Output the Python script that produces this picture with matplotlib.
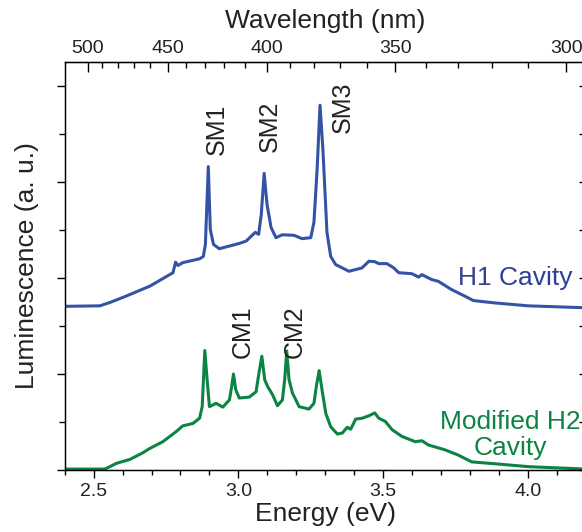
import matplotlib.pyplot as plt
from matplotlib.ticker import FixedLocator, MultipleLocator, NullFormatter
import numpy as np

plt.rcParams['font.family'] = ['Liberation Sans', 'DejaVu Sans']

# H1 cavity spectrum (energy in eV, luminescence in a.u.)
h1_energy = [2.400, 2.521, 2.556, 2.607, 2.694, 2.774, 2.783, 2.791, 2.808, 2.866,
             2.879, 2.886, 2.896, 2.903, 2.914, 2.934, 3.003, 3.027, 3.058, 3.070,
             3.079, 3.089, 3.099, 3.113, 3.130, 3.151, 3.192, 3.220, 3.250, 3.261,
             3.272, 3.282, 3.292, 3.306, 3.319, 3.336, 3.382, 3.427, 3.451, 3.471,
             3.485, 3.513, 3.537, 3.554, 3.599, 3.623, 3.634, 3.667, 3.691, 3.736,
             3.783, 3.812, 3.887, 4.002, 4.200]
h1_lum = [3.41, 3.42, 3.49, 3.61, 3.83, 4.11, 4.33, 4.26, 4.32, 4.40,
          4.45, 4.70, 6.32, 5.01, 4.70, 4.61, 4.72, 4.77, 4.95, 4.91,
          5.32, 6.18, 5.53, 5.05, 4.84, 4.90, 4.89, 4.82, 4.84, 5.16,
          6.26, 7.60, 6.68, 4.95, 4.45, 4.28, 4.14, 4.21, 4.35, 4.34,
          4.30, 4.30, 4.21, 4.11, 4.09, 4.02, 4.07, 3.97, 3.93, 3.76,
          3.62, 3.53, 3.48, 3.42, 3.38]

# Modified H2 cavity spectrum
h2_energy = [2.400, 2.539, 2.579, 2.625, 2.670, 2.694, 2.739, 2.785, 2.808, 2.843,
             2.866, 2.875, 2.884, 2.892, 2.900, 2.923, 2.946, 2.969, 2.976, 2.983,
             2.991, 3.003, 3.038, 3.061, 3.070, 3.081, 3.091, 3.101, 3.118, 3.135,
             3.152, 3.160, 3.167, 3.175, 3.187, 3.210, 3.244, 3.261, 3.270, 3.279,
             3.289, 3.302, 3.319, 3.342, 3.359, 3.376, 3.388, 3.405, 3.428, 3.451,
             3.471, 3.485, 3.508, 3.531, 3.565, 3.611, 3.634, 3.657, 3.714, 3.760,
             3.806, 3.887, 4.002, 4.200]
h2_lum = [0.02, 0.02, 0.14, 0.22, 0.36, 0.45, 0.59, 0.80, 0.92, 0.97,
          1.08, 1.32, 2.49, 1.88, 1.32, 1.39, 1.31, 1.46, 1.71, 2.00,
          1.67, 1.50, 1.52, 1.63, 1.98, 2.37, 1.88, 1.74, 1.57, 1.34,
          1.46, 1.88, 2.48, 1.88, 1.60, 1.32, 1.27, 1.39, 1.77, 2.07,
          1.67, 1.18, 0.90, 0.75, 0.77, 0.89, 0.85, 1.06, 1.08, 1.13,
          1.19, 1.08, 1.01, 0.84, 0.70, 0.59, 0.61, 0.52, 0.42, 0.31,
          0.17, 0.13, 0.07, 0.02]

wl_major = [500, 450, 400, 350, 300]
wl_minor = list(range(500, 299, -10))

peak_labels = ['SM1', 'SM2', 'SM3', 'CM1', 'CM2']
peak_x = [2.924, 3.110, 3.361, 3.014, 3.196]
peak_y = [7.10, 7.16, 7.56, 2.88, 2.88]

blue = '#3353a5'
green = '#0b8443'

fig = plt.figure(figsize=(5.82, 5.32), dpi=100)
ax = fig.add_axes([0.1112, 0.1165, 0.8952, 0.767])

ax.plot(h1_energy, h1_lum, color=blue, lw=2.2)
ax.plot(h2_energy, h2_lum, color=green, lw=2.2)

ax.set_xlim(2.4, 4.2)
ax.set_ylim(0, 8.5)
ax.xaxis.set_major_locator(MultipleLocator(0.5))
ax.xaxis.set_minor_locator(MultipleLocator(0.1))
ax.yaxis.set_major_locator(MultipleLocator(2))
ax.yaxis.set_minor_locator(MultipleLocator(1))
ax.yaxis.set_major_formatter(NullFormatter())
ax.tick_params(axis='x', which='both', direction='out', labelsize=14,
               labelcolor='#222222', width=1)
ax.tick_params(axis='x', which='major', length=6)
ax.tick_params(axis='x', which='minor', length=3.5)
ax.tick_params(axis='y', which='both', direction='out', left=True, right=False, width=1)
ax.tick_params(axis='y', which='major', length=6)
ax.tick_params(axis='y', which='minor', length=4)
for s in ax.spines.values():
    s.set_linewidth(1)

# right-hand inward ticks
ax_r = ax.twinx()
ax_r.set_ylim(0, 8.5)
ax_r.yaxis.set_major_locator(MultipleLocator(1))
ax_r.yaxis.set_major_formatter(NullFormatter())
ax_r.tick_params(axis='y', direction='in', length=5, width=1)

ax.set_xlabel('Energy (eV)', fontsize=19, color='#222222', labelpad=1)
ax.set_ylabel('Luminescence (a. u.)', fontsize=19, color='#222222', labelpad=9)

conv = lambda v: 1239.84 / np.asarray(v, dtype=float)
top = ax.secondary_xaxis('top', functions=(conv, conv))
top.xaxis.set_major_locator(FixedLocator(wl_major))
top.xaxis.set_minor_locator(FixedLocator(wl_minor))
top.tick_params(axis='x', which='both', direction='in', labelsize=14,
                labelcolor='#222222', width=1)
top.tick_params(axis='x', which='major', length=7)
top.tick_params(axis='x', which='minor', length=4.5)
top.set_xlabel('Wavelength (nm)', fontsize=19, color='#222222', labelpad=9)

for lab, px, py in zip(peak_labels, peak_x, peak_y):
    ax.text(px, py, lab, rotation=90, fontsize=18, ha='center', va='center',
            color='#222222')

ax.text(3.957, 4.0, 'H1 Cavity', fontsize=19, color='#2e3f96',
        ha='center', va='center')
ax.text(3.94, 0.73, 'Modified H2\nCavity', fontsize=19, color=green,
        ha='center', va='center', multialignment='center', linespacing=1.1)

fig.savefig('out.png', dpi=100)
